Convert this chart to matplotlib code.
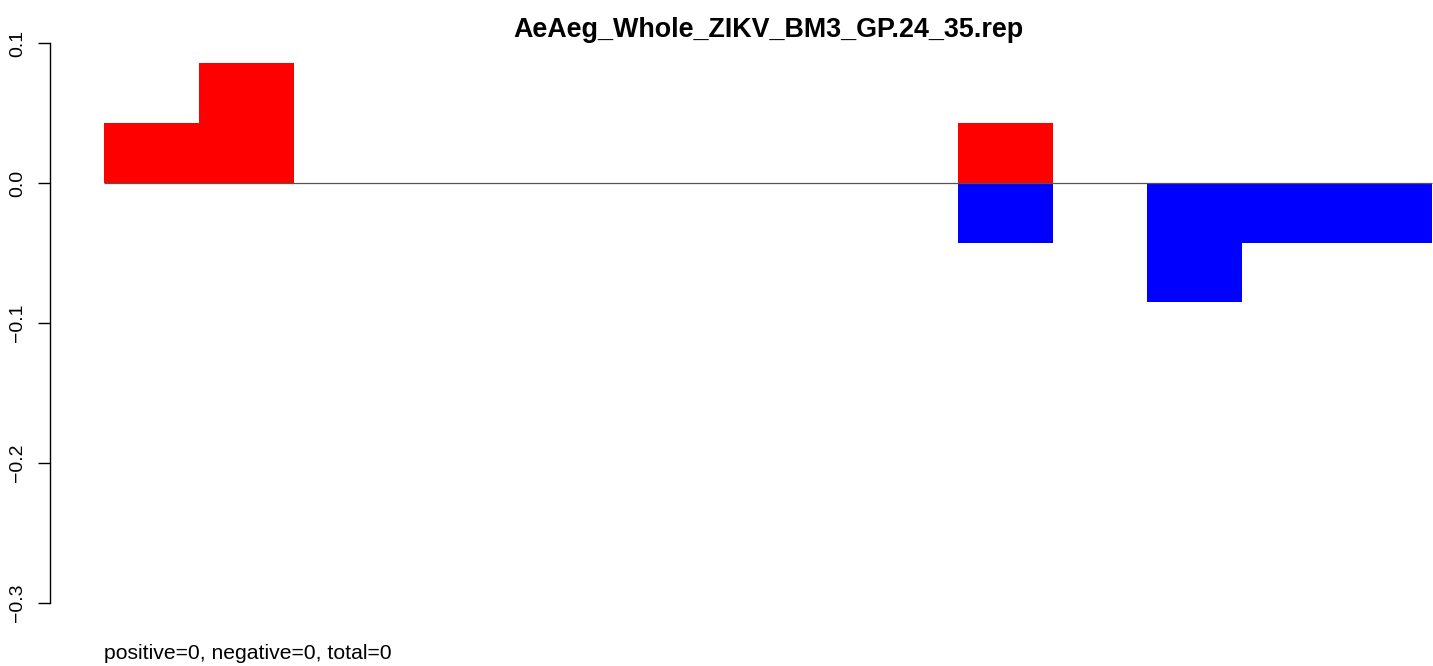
import matplotlib
matplotlib.use("Agg")
import matplotlib.pyplot as plt
import numpy as np

plt.rcParams['font.family'] = ['Liberation Sans', 'DejaVu Sans']

title = "AeAeg_Whole_ZIKV_BM3_GP.24_35.rep"
footer = "positive=0, negative=0, total=0"
positive = [0.043, 0.086, 0, 0, 0, 0, 0, 0, 0, 0.043, 0, 0, 0, 0]
negative = [0, 0, 0, 0, 0, 0, 0, 0, 0, -0.043, 0, -0.085, -0.043, -0.043]
yticks = [0.1, 0.0, -0.1, -0.2, -0.3]
ytick_labels = ["0.1", "0.0", "\u22120.1", "\u22120.2", "\u22120.3"]

W, H = 1433, 666
fig = plt.figure(figsize=(W / 100, H / 100), dpi=100)

# axes in pixel coordinates
ax_left_px, ax_right_px = 50, 1433
ax_top_px, ax_bot_px = 43, 603
ax = fig.add_axes([ax_left_px / W, 1 - ax_bot_px / H,
                   (ax_right_px - ax_left_px) / W, (ax_bot_px - ax_top_px) / H])

n = len(positive)
bar_px = 94.86
first_px = 104
xmin = -(first_px - ax_left_px) / bar_px
xmax = xmin + (ax_right_px - ax_left_px) / bar_px
ax.set_xlim(xmin, xmax)
ax.set_ylim(-0.3, 0.1)

x = np.arange(n)
ax.bar(x, positive, width=1.0, align='edge', color='#ff0000', linewidth=0)
ax.bar(x, negative, width=1.0, align='edge', color='#0000ff', linewidth=0)
ax.hlines(0, 0, n, color='#555555', linewidth=0.9, zorder=3)

for s in ['top', 'right', 'bottom']:
    ax.spines[s].set_visible(False)
ax.spines['left'].set_linewidth(1.0)
ax.spines['left'].set_bounds(-0.3, 0.1)
ax.set_xticks([])
ax.set_yticks(yticks)
ax.set_yticklabels(ytick_labels, rotation=90, va='center', fontsize=14)
ax.tick_params(axis='y', length=9, width=1.0, pad=8)

fig.text(768 / W, 1 - 37 / H, title, ha='center', va='baseline',
         fontsize=19.4, fontweight='bold')
fig.text(104 / W, 1 - 659 / H, footer, ha='left', va='baseline', fontsize=15.2)

fig.savefig("out.png", dpi=100)
